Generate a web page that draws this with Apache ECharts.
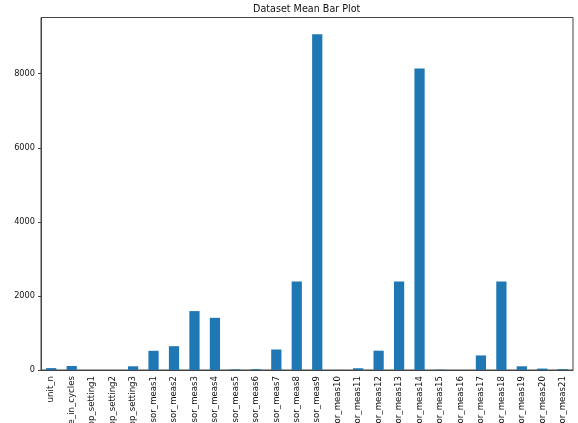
<!DOCTYPE html>
<html>
<head>
<meta charset="utf-8">
<script src="https://cdn.jsdelivr.net/npm/echarts@6/dist/echarts.min.js"></script>
<style>
  html, body { margin: 0; padding: 0; background: #fff; }
  #chart { width: 578px; height: 423px; }
</style>
</head>
<body>
<div id="chart"></div>
<script>
// Column names of the dataset (x categories)
const columns = [
  'unit_n', 'time_in_cycles', 'op_setting1', 'op_setting2', 'op_setting3',
  'sensor_meas1', 'sensor_meas2', 'sensor_meas3', 'sensor_meas4', 'sensor_meas5',
  'sensor_meas6', 'sensor_meas7', 'sensor_meas8', 'sensor_meas9', 'sensor_meas10',
  'sensor_meas11', 'sensor_meas12', 'sensor_meas13', 'sensor_meas14', 'sensor_meas15',
  'sensor_meas16', 'sensor_meas17', 'sensor_meas18', 'sensor_meas19', 'sensor_meas20',
  'sensor_meas21'
];

// Mean value of each column
const meanValues = [
  51.5, 108.8, 0.0, 0.0, 100.0,
  518.67, 642.68, 1590.52, 1408.93, 14.62,
  21.61, 553.37, 2388.10, 9065.24, 1.30,
  47.54, 521.41, 2388.10, 8143.75, 8.44,
  0.03, 393.21, 2388.0, 100.0, 38.82,
  23.29
];

// Y tick values
const yTicks = [0, 2000, 4000, 6000, 8000];

const yMax = Math.max(...meanValues) * 1.05;

const chart = echarts.init(document.getElementById('chart'), null, { renderer: 'canvas' });

const axisColor = '#444';
const font = 'DejaVu Sans';

chart.setOption({
  animation: false,
  backgroundColor: '#ffffff',
  title: {
    text: 'Dataset Mean Bar Plot',
    left: 253,
    top: 4,
    padding: 0,
    textStyle: { fontFamily: font, fontSize: 9.6, fontWeight: 'normal', color: '#111' }
  },
  grid: {
    left: 41, right: 5, top: 17.5, bottom: 53,
    outerBoundsMode: 'none',
    containLabel: false,
    show: true, borderColor: axisColor, borderWidth: 1, backgroundColor: 'transparent'
  },
  xAxis: {
    type: 'category',
    data: columns,
    axisLine: { lineStyle: { color: axisColor, width: 1 } },
    axisTick: { alignWithLabel: true, length: 3, lineStyle: { color: axisColor } },
    axisLabel: {
      rotate: 90, interval: 0, margin: 6, hideOverlap: false,
      fontFamily: font, fontSize: 8.6, color: '#111'
    },
    splitLine: { show: false }
  },
  yAxis: {
    type: 'value',
    min: 0,
    max: yMax,
    interval: 2000,
    axisLine: { show: true, lineStyle: { color: axisColor, width: 1 } },
    axisTick: { show: true, length: 3, lineStyle: { color: axisColor } },
    axisLabel: {
      margin: 6, fontFamily: font, fontSize: 8.2, color: '#111',
      showMaxLabel: false,
      formatter: v => (yTicks.includes(v) ? String(v) : '')
    },
    splitLine: { show: false }
  },
  series: [{
    type: 'bar',
    data: meanValues,
    barWidth: '50%',
    itemStyle: { color: '#1f77b4' }
  }]
});
</script>
</body>
</html>
